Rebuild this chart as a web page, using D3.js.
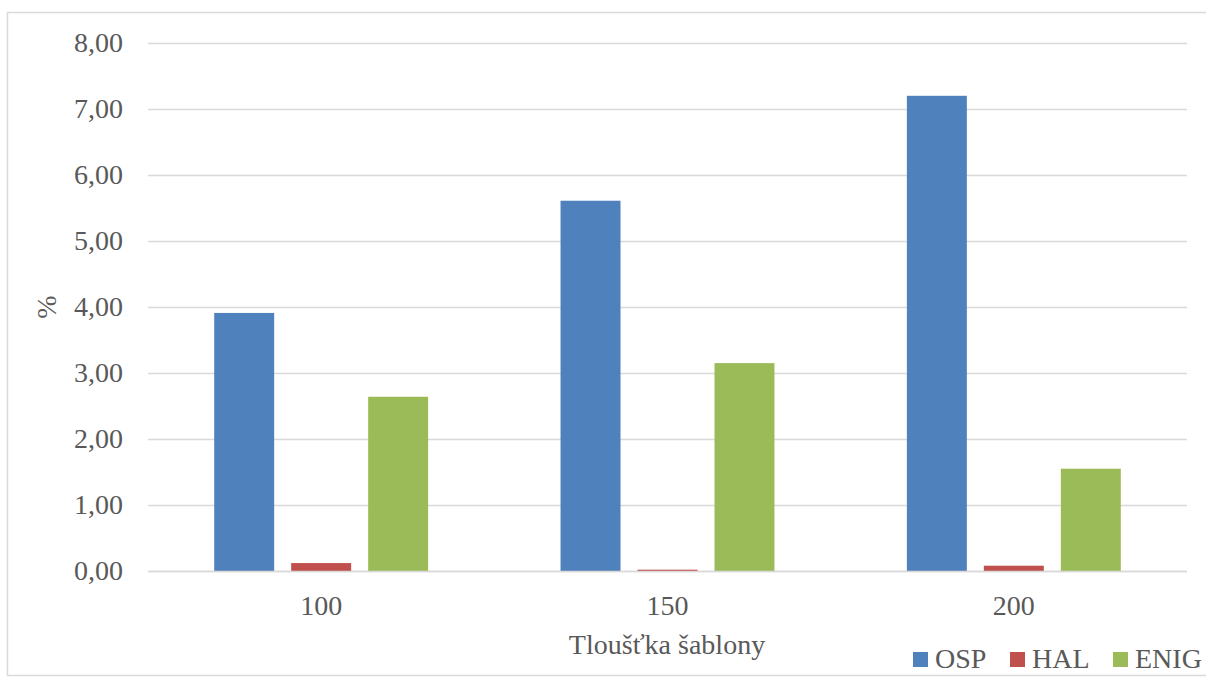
<!DOCTYPE html>
<html>
<head>
<meta charset="utf-8">
<script src="https://cdn.jsdelivr.net/npm/d3@7"></script>
<style>
  html, body { margin: 0; padding: 0; background: #fff; }
  svg { display: block; }
  text { font-family: "Liberation Serif", "Times New Roman", serif; fill: #595959; }
</style>
</head>
<body>
<svg id="chart" width="1206" height="677"></svg>
<script>
// Thickness categories and series values (%)
const categories = ["100", "150", "200"];
const seriesNames = ["OSP", "HAL", "ENIG"];
const osp = [3.91, 5.61, 7.20];
const hal = [0.12, 0.02, 0.08];
const enig = [2.64, 3.15, 1.55];
const colors = ["#4f81bd", "#c0504d", "#9bbb59"];
const yTicks = [0, 1, 2, 3, 4, 5, 6, 7, 8];

const seriesValues = [osp, hal, enig];
const svg = d3.select("#chart");
const FONT = 28;

// outer chart frame
svg.append("rect")
  .attr("x", 7.5).attr("y", 12.5)
  .attr("width", 1206).attr("height", 663)
  .attr("fill", "none").attr("stroke", "#d9d9d9").attr("stroke-width", 1.5);

const plot = { left: 148, right: 1187, top: 43, bottom: 571 };

const x = d3.scaleBand().domain(categories)
  .range([plot.left, plot.right]).paddingInner(0).paddingOuter(0);
const xs = d3.scaleBand().domain(seriesNames)
  .range([0, x.bandwidth()]).paddingInner(0.221).paddingOuter(0.86);
const y = d3.scaleLinear().domain([0, 8]).range([plot.bottom, plot.top]);

const fmt = v => d3.format(".2f")(v).replace(".", ",");

// gridlines
svg.append("g").selectAll("line").data(yTicks).join("line")
  .attr("x1", plot.left).attr("x2", plot.right)
  .attr("y1", d => Math.round(y(d)) + 0.5).attr("y2", d => Math.round(y(d)) + 0.5)
  .attr("stroke", "#d9d9d9").attr("stroke-width", 1.5);

// y-axis tick labels
const yAxis = d3.axisLeft(y).tickValues(yTicks).tickFormat(fmt).tickSize(0).tickPadding(0);
const yg = svg.append("g").attr("transform", `translate(${plot.left - 25},0)`).call(yAxis);
yg.select(".domain").remove();
yg.selectAll("text").attr("font-size", FONT).attr("fill", "#595959")
  .style("font-family", "'Liberation Serif', serif");

// bars
const groups = svg.append("g").selectAll("g").data(categories).join("g")
  .attr("transform", d => `translate(${x(d)},0)`);
groups.selectAll("rect")
  .data((c, i) => seriesNames.map((s, j) => ({ s, v: seriesValues[j][i], j })))
  .join("rect")
  .attr("x", d => xs(d.s))
  .attr("width", xs.bandwidth())
  .attr("y", d => y(d.v))
  .attr("height", d => y(0) - y(d.v))
  .attr("fill", d => colors[d.j]);

// baseline over bars
svg.append("line")
  .attr("x1", plot.left).attr("x2", plot.right)
  .attr("y1", y(0) + 0.5).attr("y2", y(0) + 0.5)
  .attr("stroke", "#d9d9d9").attr("stroke-width", 1.5);

// x-axis category labels
const xAxis = d3.axisBottom(x).tickSize(0).tickPadding(0);
const xg = svg.append("g").attr("transform", `translate(0,0)`).call(xAxis);
xg.select(".domain").remove();
xg.selectAll("text").attr("font-size", FONT).attr("fill", "#595959")
  .attr("y", 615).attr("dy", null)
  .style("font-family", "'Liberation Serif', serif");

// axis titles
svg.append("text").attr("x", 667).attr("y", 654)
  .attr("text-anchor", "middle").attr("font-size", FONT).text("Tloušťka šablony");
svg.append("text")
  .attr("transform", `translate(56,${(plot.top + plot.bottom) / 2}) rotate(-90)`)
  .attr("text-anchor", "middle").attr("font-size", FONT).text("%");

// legend
const legendX = [913, 1010, 1113];
const lg = svg.append("g").selectAll("g").data(seriesNames).join("g")
  .attr("transform", (d, i) => `translate(${legendX[i]},652)`);
lg.append("rect").attr("width", 15).attr("height", 15).attr("fill", (d, i) => colors[i]);
lg.append("text").attr("x", 22).attr("y", 16).attr("font-size", FONT).text(d => d);
</script>
</body>
</html>
